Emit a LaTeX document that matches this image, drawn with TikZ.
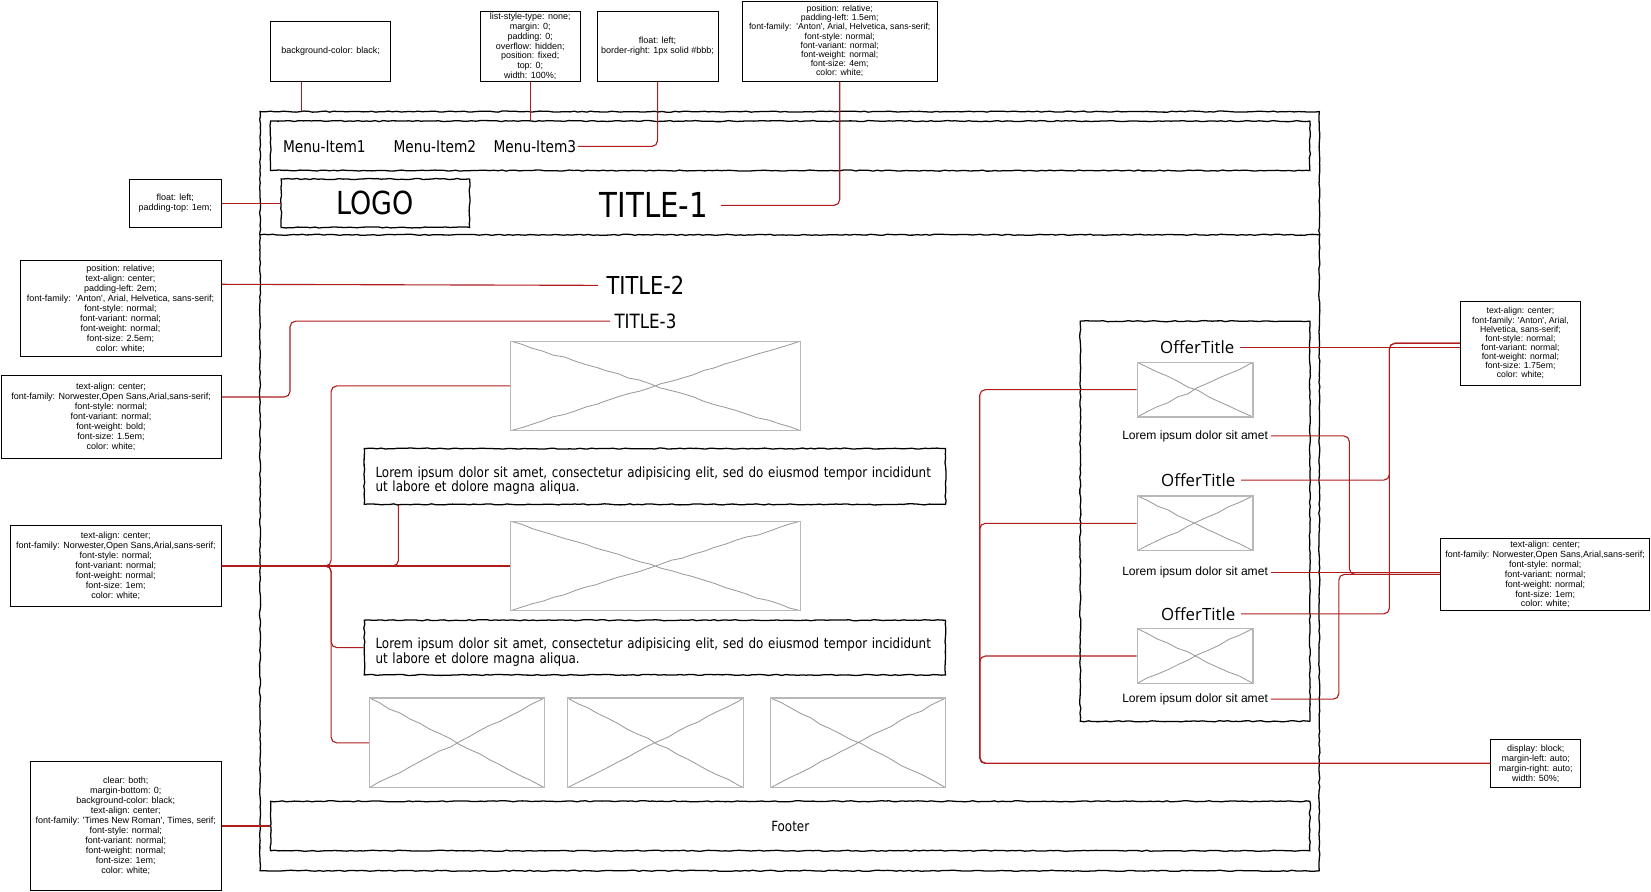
\documentclass[tikz,border=0pt]{standalone}
\usepackage{fontspec}
\setmainfont{Liberation Sans}
\newfontfamily\sketchfont[FakeStretch=0.85]{DejaVu Sans}
\newfontfamily\offerfont{Open Sans}
\usetikzlibrary{fit,decorations.pathmorphing}
\definecolor{linkred}{HTML}{B01C1C}
\definecolor{phgray}{HTML}{B8B8B8}
\definecolor{phline}{HTML}{9A9A9A}

\begin{document}
\pgfmathsetseed{11}
\begin{tikzpicture}[
    x=0.75pt, y=-0.75pt,
    css/.style={draw, line width=0.7pt, inner sep=0pt},
    csstext/.style={align=center, inner sep=0pt, font=\fontsize{6.4}{7.1}\selectfont},
    csstight/.style={csstext, font=\fontsize{6.2}{6.5}\selectfont},
    sketchline/.style={line width=0.9pt, decorate,
        decoration={random steps, segment length=3pt, amplitude=0.4pt}},
    sketchy/.style={draw, sketchline, inner sep=0pt},
    imgph/.style={draw=phgray, line width=0.9pt, inner sep=0pt,
        path picture={\draw[phline, line width=0.6pt, decorate,
            decoration={random steps, segment length=8pt, amplitude=0.6pt}]
            (path picture bounding box.north west) -- (path picture bounding box.south east)
            (path picture bounding box.south west) -- (path picture bounding box.north east);}},
    sk/.style={font=\sketchfont\fontsize{10}{12.4}\selectfont, inner sep=1pt},
    lorem/.style={font=\sketchfont\fontsize{10}{10.6}\selectfont, text width=398pt, align=left, inner sep=0pt, yshift=-3pt},
    menu/.style={font=\sketchfont\fontsize{11.5}{13}\selectfont, inner sep=1pt},
    offer/.style={font=\offerfont\fontsize{12}{14}\selectfont, inner xsep=4pt},
    caption/.style={font=\fontsize{8.6}{10}\selectfont, inner xsep=2pt},
    link/.style={draw=linkred, line width=0.8pt, rounded corners=4pt}
]
\useasboundingbox (0,0) rectangle (1568,847);

% strona
\node[sketchy, fit={(247,106) (1253,827)}] (frame) {};
\coordinate (sepL) at (247,223);
\coordinate (sepR) at (1253,223);
\draw[sketchline] (sepL) -- (sepR);

% naglowek
\node[sketchy, fit={(257,115) (1244,162)}] (nav) {};
\node[menu] (menu1) at (308,139) {Menu-Item1};
\node[menu] (menu2) at (413,139) {Menu-Item2};
\node[menu] (menu3) at (508,139) {Menu-Item3};
\node[sketchy, fit={(267,170) (446,216)},
    label={[font=\sketchfont\fontsize{22.6}{26}\selectfont]center:LOGO}] (logo) {};
\node[font=\sketchfont\fontsize{24.5}{28}\selectfont, inner xsep=9pt] (title1) at (621,195) {TITLE-1};

% tresc
\node[font=\sketchfont\fontsize{17.6}{20}\selectfont, inner xsep=6pt] (title2) at (613,271) {TITLE-2};
\node[font=\sketchfont\fontsize{14}{16}\selectfont, inner xsep=3pt] (title3) at (613,305) {TITLE-3};
\node[imgph, fit={(485,324) (760,409)}] (img1) {};
\node[sketchy, fit={(346,426) (898,479)}, label={[lorem]center:{Lorem ipsum dolor sit amet, consectetur adipisicing elit, sed do eiusmod tempor incididunt\\ut labore et dolore magna aliqua.}}] (txt1) {};
\node[imgph, fit={(485,495) (760,580)}] (img2) {};
\node[sketchy, fit={(346,589) (898,641)}, label={[lorem]center:{Lorem ipsum dolor sit amet, consectetur adipisicing elit, sed do eiusmod tempor incididunt\\ut labore et dolore magna aliqua.}}] (txt2) {};
\node[imgph, fit={(351,663) (517,748)}] (sq1) {};
\node[imgph, fit={(539,663) (706,748)}] (sq2) {};
\node[imgph, fit={(732,663) (898,748)}] (sq3) {};
\node[sketchy, fit={(257,761) (1244,808)}, label={[sk]center:Footer}] (footer) {};

% oferty
\node[sketchy, fit={(1026,305) (1244,685)}] (offers) {};
\node[offer] (ot1) at (1137,330) {OfferTitle};
\node[imgph, fit={(1080,344) (1190,396)}] (oimg1) {};
\node[caption] (cap1) at (1135,414) {Lorem ipsum dolor sit amet};
\node[offer] (ot2) at (1138,456) {OfferTitle};
\node[imgph, fit={(1080,471) (1190,523)}] (oimg2) {};
\node[caption] (cap2) at (1135,544) {Lorem ipsum dolor sit amet};
\node[offer] (ot3) at (1138,583) {OfferTitle};
\node[imgph, fit={(1080,597) (1190,649)}] (oimg3) {};
\node[caption] (cap3) at (1135,664) {Lorem ipsum dolor sit amet};

% opisy css
\node[css, fit={(257,20) (371,77)}, label={[csstext]center:{background-color: black;}}] (bgcss) {};
\node[css, fit={(456,11) (551,77)}, label={[csstext]center:{list-style-type: none;\\margin: 0;\\padding: 0;\\overflow: hidden;\\position: fixed;\\top: 0;\\width: 100\%;}}] (ulcss) {};
\node[css, fit={(567,11) (682,77)}, label={[csstext]center:{float: left;\\border-right: 1px solid \#bbb;}}] (flcss) {};
\node[css, fit={(705,1) (890,77)}, label={[csstight]center:{position: relative;\\padding-left: 1.5em;\\font-family:\ \ \textquotesingle Anton\textquotesingle, Arial, Helvetica, sans-serif;\\font-style: normal;\\font-variant: normal;\\font-weight: normal;\\font-size: 4em;\\color: white;}}] (t1css) {};
\node[css, fit={(123,170) (210,216)}, label={[csstext]center:{float: left;\\padding-top: 1em;}}] (flleft) {};
\node[css, fit={(19,247) (210,339)}, label={[csstext]center:{position: relative;\\text-align: center;\\padding-left: 2em;\\font-family:\ \ \textquotesingle Anton\textquotesingle, Arial, Helvetica, sans-serif;\\font-style: normal;\\font-variant: normal;\\font-weight: normal;\\font-size: 2.5em;\\color: white;}}] (t2css) {};
\node[css, fit={(1,357) (210,435)}, label={[csstext]center:{text-align: center;\\font-family: Norwester,Open Sans,Arial,sans-serif;\\font-style: normal;\\font-variant: normal;\\font-weight: bold;\\font-size: 1.5em;\\color: white;}}] (t3css) {};
\node[css, fit={(10,499) (210,576)}, label={[csstext]center:{text-align: center;\\font-family: Norwester,Open Sans,Arial,sans-serif;\\font-style: normal;\\font-variant: normal;\\font-weight: normal;\\font-size: 1em;\\color: white;}}] (txtcss) {};
\node[css, fit={(29,723) (210,846)}, label={[csstext]center:{clear: both;\\margin-bottom: 0;\\background-color: black;\\text-align: center;\\font-family: \textquotesingle Times New Roman\textquotesingle, Times, serif;\\font-style: normal;\\font-variant: normal;\\font-weight: normal;\\font-size: 1em;\\color: white;}}] (footcss) {};
\node[css, fit={(1387,286) (1501,366)}, label={[csstight]center:{text-align: center;\\font-family: \textquotesingle Anton\textquotesingle, Arial,\\Helvetica, sans-serif;\\font-style: normal;\\font-variant: normal;\\font-weight: normal;\\font-size: 1.75em;\\color: white;}}] (otcss) {};
\node[css, fit={(1368,511) (1567,580)}, label={[csstext]center:{text-align: center;\\font-family: Norwester,Open Sans,Arial,sans-serif;\\font-style: normal;\\font-variant: normal;\\font-weight: normal;\\font-size: 1em;\\color: white;}}] (capcss) {};
\node[css, fit={(1416,702) (1501,748)}, label={[csstext]center:{display: block;\\margin-left: auto;\\margin-right: auto;\\width: 50\%;}}] (dispcss) {};

% polaczenia
\coordinate (bgdrop) at ([xshift=-21pt]bgcss.south);
\draw[link] (bgdrop) -- (bgdrop |- frame.north);
\draw[link] (ulcss.south) -- (ulcss.south |- nav.north);
\draw[link] (flcss.south) |- (menu3.east);
\draw[link] (t1css.south) |- (title1.east);
\draw[link] (flleft.east) -- (logo.west);
\coordinate (t2out) at ([yshift=17.25pt]t2css.east);
\draw[link] (t2out) -- (title2.west);
\coordinate (t3out) at ([yshift=14.25pt]t3css.east);
\draw[link] (t3out) -- ++(65,0) |- (title3.west);
\coordinate (txt1in) at ([xshift=24.75pt]txt1.south west);
\draw[link] (txtcss.east) -- ++(104,0) |- (img1.west);
\draw[link] (txtcss.east) -| (txt1in);
\draw[link] (txtcss.east) -- (img2.west);
\draw[link] (txtcss.east) -- ++(104,0) |- (txt2.west);
\draw[link] (txtcss.east) -- ++(104,0) |- (sq1.west);
\draw[link] (footcss.east) -- (footer.west);

\draw[link] (ot1.east) -- (ot1.east -| otcss.west);
\draw[link] (otcss.west) -- ++(-67,0) |- (ot2.east);
\draw[link] (otcss.west) -- ++(-67,0) |- (ot3.east);
\draw[link] (capcss.west) -- ++(-86,0) |- (cap1.east);
\draw[link] (cap2.east) -- (cap2.east -| capcss.west);
\draw[link] (capcss.west) -- ++(-96,0) |- (cap3.east);
\draw[link] (dispcss.west) -- ++(-485,0) |- (oimg1.west);
\draw[link] (dispcss.west) -- ++(-485,0) |- (oimg2.west);
\draw[link] (dispcss.west) -- ++(-485,0) |- (oimg3.west);
\end{tikzpicture}
\end{document}
